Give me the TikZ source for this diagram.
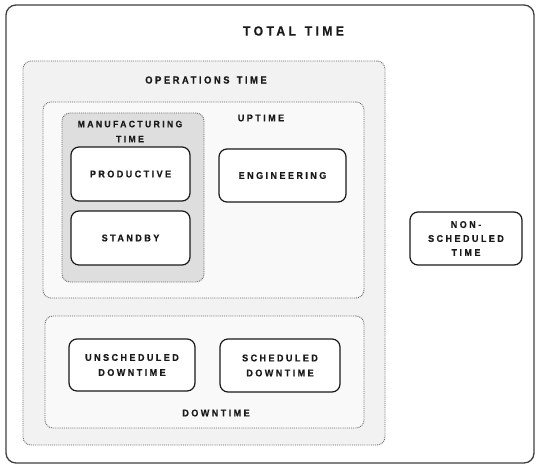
\documentclass[tikz,border=0pt]{standalone}
\usepackage{fontspec}
\setmainfont{Liberation Sans}[LetterSpace=25,FakeStretch=0.92,FakeBold=0.6]
\begin{document}
\begin{tikzpicture}[x=1pt,y=-1pt,
  outerbox/.style={draw=black!75,line width=1.3pt,rounded corners=10pt,fill=white,inner sep=0pt},
  area/.style={draw=black!60,densely dotted,line width=0.9pt,rounded corners=8pt,inner sep=0pt},
  item/.style={draw=black!90,line width=1.2pt,rounded corners=8pt,fill=white,inner sep=0pt,
    font=\fontsize{9.8}{15}\selectfont\bfseries,align=center,text=black!90},
  lbl/.style={font=\fontsize{9.8}{15}\selectfont\bfseries,align=center,text=black!90,inner sep=0pt},
  biglbl/.style={font=\fontsize{13.3}{15}\selectfont\bfseries,text=black!90,inner sep=0pt}]
\useasboundingbox (0,0) rectangle (540,473);
\node[outerbox,minimum width=528pt,minimum height=458pt] (total) at (270,234) {};
\node[biglbl] (totallbl) at (293.5,31) {TOTAL\hspace{2pt} TIME};
\node[area,fill=black!5,minimum width=362pt,minimum height=384pt] (ops) at (204,253) {};
\node[lbl,font=\fontsize{10.2}{15}\selectfont\bfseries] (opslbl) at (206,80) {OPERATIONS\hspace{2pt} TIME};
\node[area,fill=black!2.5,minimum width=321pt,minimum height=196pt] (up) at (203.5,200) {};
\node[lbl] (uplbl) at (261,118) {UPTIME};
\node[area,fill=black!13,minimum width=142pt,minimum height=169pt] (mfg) at (133,197.5) {};
\node[lbl,font=\fontsize{9.4}{15}\selectfont\bfseries] (mfglbl) at (130,131.5) {MANUFACTURING\\TIME};
\node[item,minimum width=119pt,minimum height=54pt] (prod) at (130.5,174) {PRODUCTIVE};
\node[item,minimum width=119pt,minimum height=54pt] (stby) at (130.5,238) {STANDBY};
\node[item,minimum width=127pt,minimum height=53pt] (eng) at (282.5,175.5) {ENGINEERING};
\node[area,fill=black!2.5,minimum width=319pt,minimum height=112pt] (down) at (204.5,372) {};
\node[lbl] (downlbl) at (216,413) {DOWNTIME};
\node[item,minimum width=126pt,minimum height=52pt] (unsch) at (132,365) {UNSCHEDULED\\DOWNTIME};
\node[item,minimum width=120pt,minimum height=53pt] (sch) at (280,365.5) {SCHEDULED\\DOWNTIME};
\node[item,minimum width=112pt,minimum height=53pt,font=\fontsize{9.8}{14}\selectfont\bfseries] (nonsch) at (466,238.5) {NON-\\SCHEDULED\\TIME};
\end{tikzpicture}
\end{document}
